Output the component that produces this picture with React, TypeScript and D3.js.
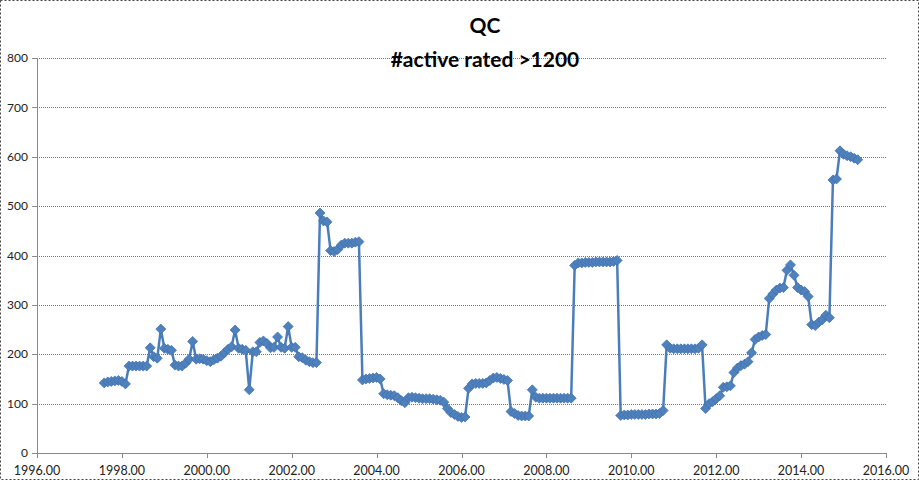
import React from "react";
import * as d3 from "d3";

const TITLE = "QC";
const SUBTITLE = "#active rated >1200";
const START_YEAR = 1997;
const START_MONTH = 7; // August 1997 (0-based month index)
const values: number[] = [
  142, 144, 145, 146, 147, 145, 140,
  176, 176, 176, 176, 176, 176,
  213, 195, 192, 251, 212, 210, 208, 178, 176, 176, 182, 190,
  226, 190, 191, 190, 187, 185, 189, 192, 196, 203, 210, 215,
  249, 212, 210, 208, 128, 205, 205, 224, 227, 222, 213, 214,
  235, 214, 212, 256, 214, 214, 195, 193, 188, 185, 183, 183,
  486, 470, 468, 410, 408, 412, 421, 425, 425, 425, 427, 428,
  148, 150, 151, 152, 153, 150, 120, 118, 117, 116, 112, 106,
  102, 112, 113, 112, 111, 110, 110, 110, 109, 108, 107, 103,
  90, 82, 78, 74, 72, 73, 131, 140, 141, 141, 141, 142,
  147, 152, 153, 151, 149, 147, 84, 80, 76, 75, 75, 75,
  128, 113, 111, 111, 111, 111, 111, 111, 111, 111, 111, 111,
  380, 385, 385, 386, 386, 386, 387, 387, 387, 387, 387, 388, 390,
  76, 77, 77, 78, 78, 78, 78, 78, 79, 79, 79, 80, 86,
  219, 212, 211, 211, 211, 211, 211, 211, 211, 212, 219,
  90, 100, 104, 110, 116, 133, 134, 136, 163, 172, 177, 180,
  185, 203, 230, 235, 238, 240, 313, 322, 330, 334, 335, 370,
  381, 360, 335, 330, 327, 317, 260, 258, 265, 270, 279, 274,
  553, 555, 612, 605, 602, 600, 597, 594,
];
const dates: number[] = values.map((_, i) => START_YEAR + (START_MONTH + i) / 12);
const xTicks = [1996, 1998, 2000, 2002, 2004, 2006, 2008, 2010, 2012, 2014, 2016];
const yTicks = [0, 100, 200, 300, 400, 500, 600, 700, 800];

const W = 919;
const H = 480;
const M = { left: 37, right: 886, top: 58, bottom: 453 };
const FONT = "Lato, 'Open Sans', sans-serif";

export default function App() {
  const x = d3.scaleLinear().domain([1996, 2016]).range([M.left, M.right]);
  const y = d3.scaleLinear().domain([0, 800]).range([M.bottom, M.top]);
  const pts: [number, number][] = values.map((v, i) => [x(dates[i]), y(v)]);
  const line = d3.line<[number, number]>().x((d) => d[0]).y((d) => d[1]);
  const r = 5;
  const diamond = (cx: number, cy: number) =>
    `M${cx},${cy - r}L${cx + r},${cy}L${cx},${cy + r}L${cx - r},${cy}Z`;
  const fmt = d3.format(".2f");

  return (
    <svg
      width={W}
      height={H}
      style={{ position: "absolute", left: 0, top: 0, background: "#fff" }}
      fontFamily={FONT}
    >
      <rect x={0.5} y={0.5} width={W - 1} height={H - 1} fill="#fff" stroke="#444" strokeDasharray="2,2" />
      {yTicks.map((t) => (
        <g key={"y" + t}>
          {t > 0 && (
            <line x1={M.left} x2={M.right} y1={Math.round(y(t)) + 0.5} y2={Math.round(y(t)) + 0.5}
              stroke="#777" strokeDasharray="1,1" />
          )}
          <line x1={M.left - 5} x2={M.left} y1={Math.round(y(t)) + 0.5} y2={Math.round(y(t)) + 0.5} stroke="#8a8a8a" />
          <text x={M.left - 9} y={y(t)} dy="0.35em" textAnchor="end" fontSize={12} fill="#222">
            {t}
          </text>
        </g>
      ))}
      <line x1={M.left + 0.5} x2={M.left + 0.5} y1={M.top} y2={M.bottom} stroke="#8a8a8a" />
      <line x1={M.left} x2={M.right} y1={M.bottom + 0.5} y2={M.bottom + 0.5} stroke="#8a8a8a" />
      {xTicks.map((t) => (
        <g key={"x" + t}>
          <line x1={Math.round(x(t)) + 0.5} x2={Math.round(x(t)) + 0.5} y1={M.bottom} y2={M.bottom + 5} stroke="#8a8a8a" />
          <text x={x(t)} y={475} textAnchor="middle" fontSize={12.5} fill="#222">
            {fmt(t)}
          </text>
        </g>
      ))}
      <path d={line(pts) || ""} fill="none" stroke="#4a7ebb" strokeWidth={2.5} strokeLinejoin="round" />
      {pts.map((p, i) => (
        <path key={i} d={diamond(p[0], p[1])} fill="#4f81bd" stroke="#3f6fae" strokeWidth={0.75} />
      ))}
      <text x={485} y={33} textAnchor="middle" fontSize={21} fontWeight="bold" fill="#000">
        {TITLE}
      </text>
      <text x={485} y={67} textAnchor="middle" fontSize={21} fontWeight="bold" fill="#000">
        {SUBTITLE}
      </text>
    </svg>
  );
}
